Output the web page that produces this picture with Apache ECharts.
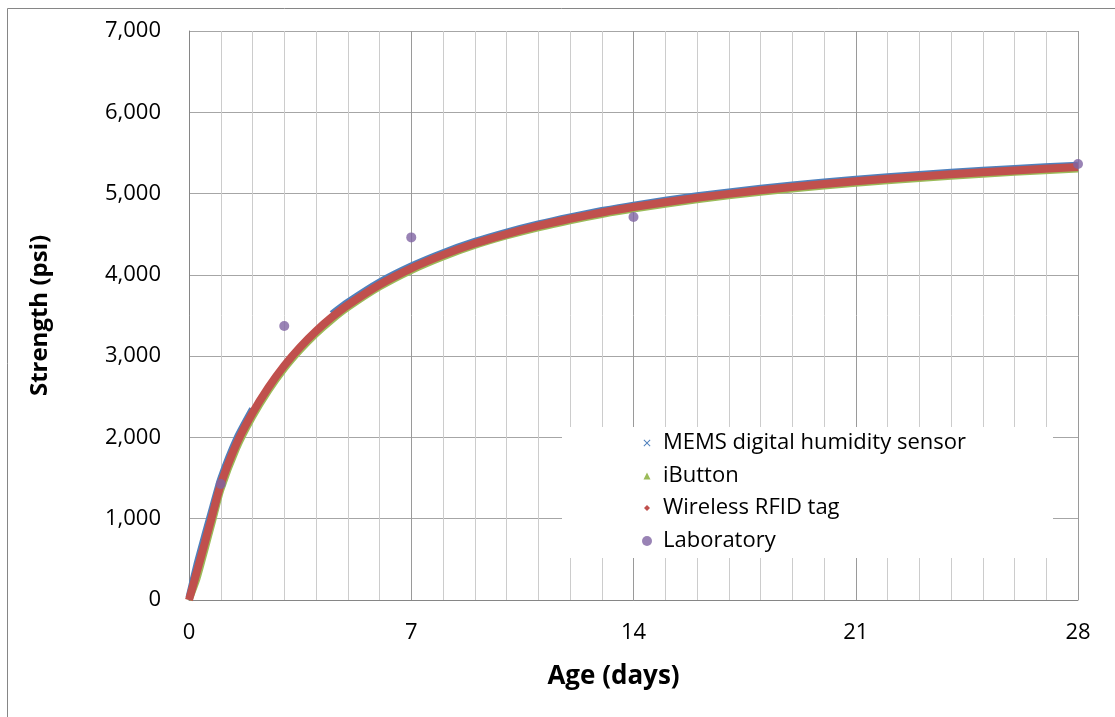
<!DOCTYPE html>
<html>
<head>
<meta charset="utf-8">
<script src="https://cdn.jsdelivr.net/npm/echarts@6/dist/echarts.min.js"></script>
<style>html,body{margin:0;padding:0;background:#fff}#c{width:1115px;height:717px}</style>
</head>
<body>
<div id="c"></div>
<script>
// Data
const ages = [0,0.25,0.5,0.75,1,1.5,2,2.5,3,3.5,4,4.5,5,6,7,8,9,10,11,12,13,14,16,18,20,22,24,26,28];
const memsStrength = [30,440,800,1150,1494,1985,2350,null,null,null,null,3519,3664,3912,4110,4273,4411,4527,4627,4714,4791,4858,4973,5065,5142,5206,5261,5309,5350];
const iButtonStrength = [0,260,615,980,1350,1865,2250,2570,2843,3073,3273,3445,3596,3850,4054,4221,4361,4478,4579,4666,4743,4810,4925,5017,5094,5158,5213,5261,5302];
const rfidStrength = [0,350,705,1065,1422,1925,2300,2614,2883,3111,3308,3479,3628,3879,4081,4246,4385,4502,4603,4690,4767,4834,4949,5041,5118,5182,5237,5285,5326];
const labAges = [1,3,7,14,28];
const labStrength = [1427,3370,4461,4711,5363];
const seriesNames = ['MEMS digital humidity sensor','iButton','Wireless RFID tag','Laboratory'];
const xTicks = [0,7,14,21,28];

const FONT = 'Open Sans';
const pair = (xs, ys) => xs.map((x, i) => [x, ys[i]]);
const colors = ['#4f81bd','#9bbb59','#c0504d','#8064a2'];
const icons = [
  'path://M0,1L1,0L5,4L9,0L10,1L6,5L10,9L9,10L5,6L1,10L0,9L4,5Z',
  'triangle','diamond','circle'
];
const iconSize = [7,7,6,10];
const rowCenters = [443,476,508,541];

const legends = seriesNames.map((n, i) => ({
  data: [{name: n, icon: icons[i], itemStyle: {color: colors[i]}}],
  left: 647 - iconSize[i] / 2,
  top: rowCenters[i] - 13,
  padding: 0,
  itemWidth: iconSize[i],
  itemHeight: iconSize[i],
  itemGap: 0,
  selectedMode: false,
  textStyle: {fontFamily: FONT, fontSize: 22, color: '#000', lineHeight: 26,
    padding: [0, 0, 0, 15 - iconSize[i] / 2 - 5 + 1]}
}));

const chart = echarts.init(document.getElementById('c'), null, {renderer: 'canvas'});
chart.setOption({
  animation: false,
  backgroundColor: '#fff',
  graphic: [
    {type: 'rect', shape: {x: 7.5, y: 8.5, width: 1200, height: 800},
     style: {fill: 'none', stroke: '#868686', lineWidth: 1}, z: 0},
    {type: 'rect', shape: {x: 562, y: 427, width: 491, height: 131},
     style: {fill: '#fff'}, z: 3}
  ],
  legend: legends,
  grid: {left: 189, right: 37, top: 31, bottom: 117, containLabel: false},
  xAxis: {
    type: 'value', min: 0, max: 28, interval: 7,
    name: 'Age (days)', nameLocation: 'middle', nameGap: 64,
    nameTextStyle: {fontFamily: FONT, fontSize: 26, fontWeight: 'bold', color: '#000', padding: [0, 40, 0, 0]},
    axisLine: {show: true, lineStyle: {color: '#868686', width: 1}},
    axisTick: {show: false},
    axisLabel: {fontFamily: FONT, fontSize: 22, color: '#000', margin: 22,
      formatter: v => xTicks.includes(v) ? String(v) : ''},
    splitLine: {show: true, lineStyle: {color: '#9a9a9a', width: 1}},
    minorTick: {show: false, splitNumber: 7},
    minorSplitLine: {show: true, lineStyle: {color: '#cccccc', width: 1}}
  },
  yAxis: {
    type: 'value', min: 0, max: 7000, interval: 1000,
    name: 'Strength (psi)', nameLocation: 'middle', nameGap: 137, nameRotate: 90,
    nameTextStyle: {fontFamily: FONT, fontSize: 24, fontWeight: 'bold', color: '#000'},
    axisLine: {show: true, lineStyle: {color: '#868686', width: 1}},
    axisTick: {show: false},
    axisLabel: {fontFamily: FONT, fontSize: 22, color: '#000', margin: 28,
      formatter: v => v.toLocaleString('en-US')},
    splitLine: {show: true, lineStyle: {color: '#a6a6a6', width: 1}}
  },
  series: [
    {name: seriesNames[0], type: 'line', data: pair(ages, memsStrength), smooth: 0.2,
     showSymbol: false, connectNulls: false, itemStyle: {color: colors[0]},
     lineStyle: {color: colors[0], width: 7}},
    {name: seriesNames[1], type: 'line', data: pair(ages, iButtonStrength), smooth: 0.2,
     showSymbol: false, itemStyle: {color: colors[1]},
     lineStyle: {color: colors[1], width: 7}},
    {name: seriesNames[2], type: 'line', data: pair(ages, rfidStrength), smooth: 0.2,
     showSymbol: false, itemStyle: {color: colors[2]},
     lineStyle: {color: colors[2], width: 8}},
    {name: seriesNames[3], type: 'scatter', data: pair(labAges, labStrength), z: 10,
     symbol: 'circle', symbolSize: 10, itemStyle: {color: colors[3]}}
  ]
});
</script>
</body>
</html>
